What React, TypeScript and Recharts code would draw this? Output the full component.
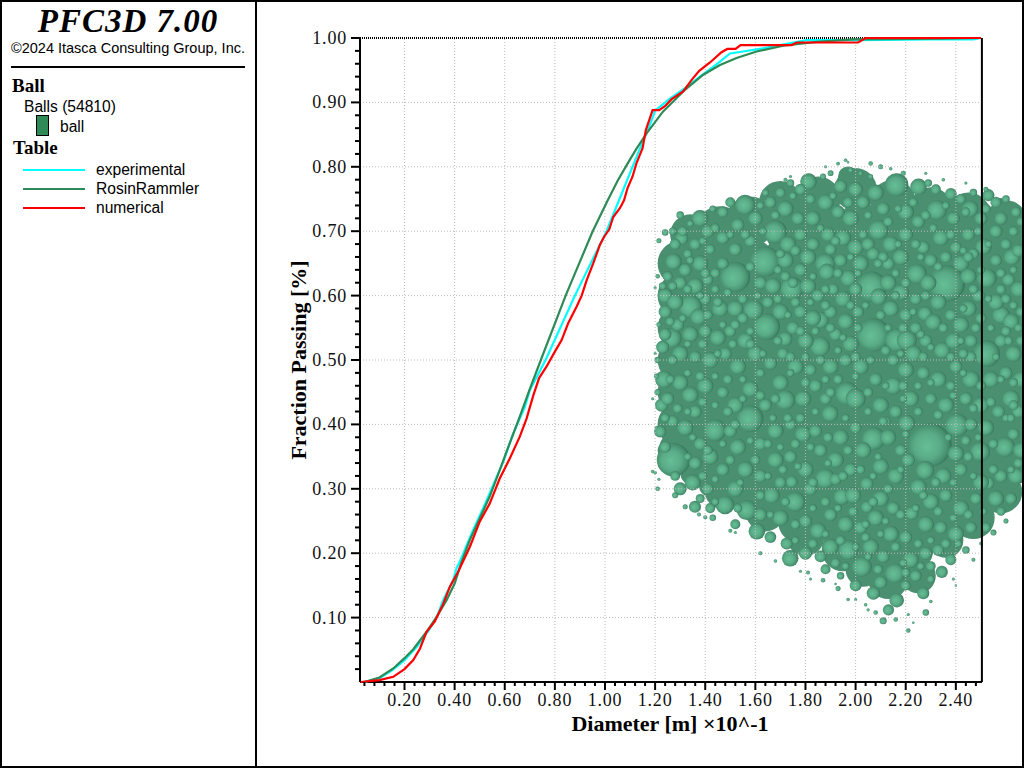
import React from 'react';
import {
  ComposedChart,
  Line,
  Scatter,
  XAxis,
  YAxis,
  ZAxis,
  ReferenceLine,
  Legend,
} from 'recharts';

type Pt = [number, number];
type Ball = [number, number, number];

// curves as [diameter, fraction]
const experimental: Pt[] = [
  [0.04, 0], [0.1, 0.006], [0.15, 0.018], [0.2, 0.034], [0.25, 0.055], [0.3, 0.082], [0.33, 0.102],
  [0.354, 0.127], [0.394, 0.158], [0.408, 0.177], [0.421, 0.187], [0.468, 0.231], [0.514, 0.27],
  [0.554, 0.306], [0.594, 0.342], [0.634, 0.386], [0.68, 0.427], [0.7, 0.453], [0.763, 0.5],
  [0.88, 0.6], [1.006, 0.7], [1.056, 0.748], [1.14, 0.829], [1.176, 0.862], [1.2, 0.887],
  [1.259, 0.906], [1.319, 0.922], [1.379, 0.94], [1.445, 0.959], [1.499, 0.976], [1.551, 0.979],
  [1.631, 0.984], [1.725, 0.991], [1.804, 0.9966], [2.004, 0.9966], [2.3, 0.998], [2.47, 0.998], [2.5, 1],
];
const rosinRammler: Pt[] = [
  [0.04, 0], [0.1, 0.007], [0.155, 0.021], [0.2, 0.037], [0.235, 0.051], [0.288, 0.078], [0.328, 0.101],
  [0.368, 0.127], [0.4, 0.153], [0.428, 0.187], [0.46, 0.22], [0.5, 0.254], [0.54, 0.288], [0.58, 0.329],
  [0.62, 0.371], [0.66, 0.412], [0.698, 0.453], [0.744, 0.5], [0.843, 0.6], [0.951, 0.7], [1.011, 0.748],
  [1.05, 0.778], [1.09, 0.805], [1.124, 0.827], [1.166, 0.852], [1.232, 0.886], [1.312, 0.917],
  [1.392, 0.943], [1.459, 0.958], [1.525, 0.969], [1.605, 0.979], [1.711, 0.988], [1.844, 0.994],
  [1.99, 0.998], [2.34, 0.999], [2.5, 1],
];
const numerical: Pt[] = [
  [0.025, 0], [0.1, 0.003], [0.155, 0.008], [0.2, 0.02], [0.235, 0.034], [0.262, 0.052], [0.288, 0.078],
  [0.321, 0.094], [0.355, 0.122], [0.381, 0.148], [0.414, 0.171], [0.421, 0.177], [0.461, 0.21], [0.5, 0.249],
  [0.54, 0.277], [0.58, 0.316], [0.62, 0.347], [0.66, 0.381], [0.687, 0.409], [0.714, 0.445], [0.737, 0.472],
  [0.767, 0.49], [0.8, 0.513], [0.827, 0.531], [0.853, 0.557], [0.887, 0.583], [0.907, 0.6], [0.927, 0.624],
  [0.953, 0.65], [0.98, 0.679], [0.996, 0.691], [1.017, 0.703], [1.033, 0.722], [1.06, 0.736], [1.076, 0.748],
  [1.09, 0.767], [1.11, 0.785], [1.125, 0.805], [1.15, 0.829], [1.163, 0.857], [1.19, 0.888], [1.216, 0.888],
  [1.239, 0.894], [1.266, 0.905], [1.312, 0.917], [1.346, 0.935], [1.376, 0.949], [1.419, 0.962], [1.465, 0.978],
  [1.488, 0.983], [1.521, 0.983], [1.541, 0.989], [1.745, 0.989], [1.765, 0.993], [2.01, 0.993], [2.04, 1], [2.5, 1],
];

// ball cloud as [x, y, diameter] in axis units, back to front
const coreBalls: Ball[] = [
  [1.7, 0.745, 0.17], [1.85, 0.75, 0.18], [2.0, 0.765, 0.17], [2.15, 0.745, 0.18], [2.3, 0.735, 0.17], [2.45, 0.725, 0.18], [2.6, 0.715, 0.17],
  [1.97, 0.785, 0.08], [1.55, 0.735, 0.08], [2.4, 0.74, 0.08], [2.58, 0.74, 0.06],
  [1.34, 0.695, 0.16], [1.46, 0.7, 0.2], [1.58, 0.715, 0.2], [1.74, 0.7, 0.2], [1.88, 0.7, 0.2], [2.02, 0.705, 0.2], [2.16, 0.7, 0.2], [2.3, 0.69, 0.2], [2.44, 0.68, 0.2], [2.58, 0.675, 0.2], [2.67, 0.69, 0.12],
  [1.3, 0.65, 0.18], [1.44, 0.655, 0.2], [1.58, 0.65, 0.2], [1.72, 0.65, 0.2], [1.86, 0.645, 0.2], [2.0, 0.65, 0.2], [2.14, 0.65, 0.2], [2.28, 0.645, 0.2], [2.42, 0.64, 0.2], [2.56, 0.63, 0.2], [2.66, 0.64, 0.2],
  [1.3, 0.6, 0.18], [1.44, 0.6, 0.2], [1.58, 0.6, 0.2], [1.72, 0.6, 0.2], [1.86, 0.6, 0.2], [2.0, 0.6, 0.2], [2.14, 0.6, 0.2], [2.28, 0.6, 0.2], [2.42, 0.59, 0.2], [2.56, 0.585, 0.2], [2.66, 0.59, 0.2],
  [1.3, 0.55, 0.18], [1.44, 0.55, 0.2], [1.58, 0.55, 0.2], [1.72, 0.55, 0.2], [1.86, 0.55, 0.2], [2.0, 0.55, 0.2], [2.14, 0.55, 0.2], [2.28, 0.55, 0.2], [2.42, 0.54, 0.2], [2.56, 0.54, 0.2], [2.66, 0.54, 0.2],
  [1.3, 0.5, 0.18], [1.44, 0.5, 0.2], [1.58, 0.5, 0.2], [1.72, 0.5, 0.2], [1.86, 0.5, 0.2], [2.0, 0.5, 0.2], [2.14, 0.5, 0.2], [2.28, 0.5, 0.2], [2.42, 0.5, 0.2], [2.56, 0.49, 0.2], [2.66, 0.49, 0.2],
  [1.3, 0.45, 0.18], [1.44, 0.45, 0.2], [1.58, 0.45, 0.2], [1.72, 0.45, 0.2], [1.86, 0.45, 0.2], [2.0, 0.45, 0.2], [2.14, 0.45, 0.2], [2.28, 0.45, 0.2], [2.42, 0.45, 0.2], [2.56, 0.44, 0.2], [2.66, 0.44, 0.2],
  [1.3, 0.4, 0.18], [1.44, 0.4, 0.2], [1.58, 0.4, 0.2], [1.72, 0.4, 0.2], [1.86, 0.4, 0.2], [2.0, 0.4, 0.2], [2.14, 0.4, 0.2], [2.28, 0.4, 0.2], [2.42, 0.4, 0.2], [2.56, 0.39, 0.2], [2.66, 0.39, 0.2],
  [1.3, 0.36, 0.17], [1.44, 0.35, 0.2], [1.58, 0.35, 0.2], [1.72, 0.35, 0.2], [1.86, 0.35, 0.2], [2.0, 0.35, 0.2], [2.14, 0.35, 0.2], [2.28, 0.35, 0.2], [2.42, 0.35, 0.2], [2.56, 0.345, 0.2], [2.66, 0.34, 0.16],
  [1.35, 0.325, 0.1], [1.42, 0.305, 0.09], [1.24, 0.36, 0.06],
  [1.48, 0.3, 0.17], [1.62, 0.3, 0.18], [1.76, 0.3, 0.18], [1.9, 0.3, 0.18], [2.04, 0.3, 0.18], [2.18, 0.3, 0.18], [2.32, 0.3, 0.18], [2.46, 0.3, 0.18], [2.58, 0.295, 0.17],
  [1.64, 0.265, 0.16], [1.78, 0.25, 0.18], [1.92, 0.25, 0.18], [2.06, 0.25, 0.18], [2.2, 0.25, 0.18], [2.34, 0.25, 0.18], [2.47, 0.255, 0.17],
  [1.8, 0.225, 0.15], [1.95, 0.205, 0.17], [2.08, 0.2, 0.18], [2.22, 0.205, 0.18], [2.36, 0.22, 0.14],
  [2.03, 0.175, 0.14], [2.13, 0.16, 0.16], [2.25, 0.165, 0.14],
];
const midBalls: Ball[] = [
  [2.364, 0.619, 0.146], [1.639, 0.653, 0.12], [2.064, 0.614, 0.12], [1.745, 0.611, 0.093], [2.071, 0.539, 0.133], [2.164, 0.531, 0.093],
  [1.645, 0.552, 0.106], [1.858, 0.521, 0.08], [1.559, 0.741, 0.08], [1.812, 0.777, 0.066], [2.164, 0.772, 0.093], [2.251, 0.769, 0.066],
  [2.324, 0.733, 0.08], [1.679, 0.699, 0.093], [2.091, 0.702, 0.08], [1.379, 0.72, 0.066], [1.273, 0.653, 0.066], [1.306, 0.689, 0.053],
  [1.519, 0.629, 0.12], [1.34, 0.583, 0.093], [1.266, 0.534, 0.08], [1.373, 0.567, 0.066], [1.459, 0.58, 0.066], [1.592, 0.578, 0.08],
  [1.878, 0.65, 0.08], [1.885, 0.637, 0.066], [2.244, 0.634, 0.08], [1.971, 0.627, 0.066], [2.091, 0.598, 0.066], [2.204, 0.531, 0.08],
  [2.523, 0.51, 0.106], [2.523, 0.627, 0.08], [2.53, 0.756, 0.048], [2.51, 0.676, 0.066], [2.623, 0.66, 0.066], [2.457, 0.735, 0.066],
  [2.45, 0.58, 0.066], [2.231, 0.51, 0.066], [2.345, 0.515, 0.066], [1.719, 0.533, 0.058], [2.277, 0.572, 0.058], [2.31, 0.559, 0.066],
  [1.86, 0.562, 0.066], [2.297, 0.368, 0.173], [2.071, 0.378, 0.093], [1.439, 0.391, 0.088], [1.273, 0.345, 0.133], [1.579, 0.409, 0.106],
  [2.404, 0.399, 0.093], [2.277, 0.329, 0.074], [2.596, 0.365, 0.08], [2.497, 0.358, 0.08], [2.157, 0.169, 0.08], [1.878, 0.316, 0.08],
  [1.759, 0.28, 0.08], [2.251, 0.303, 0.066], [1.665, 0.29, 0.066], [1.566, 0.267, 0.08], [1.479, 0.275, 0.074], [1.739, 0.192, 0.066],
  [1.359, 0.272, 0.048], [2.224, 0.262, 0.053], [2.045, 0.272, 0.048], [1.945, 0.288, 0.066], [1.719, 0.438, 0.08], [1.34, 0.446, 0.066],
  [2.53, 0.309, 0.048], [1.971, 0.205, 0.08], [2.025, 0.179, 0.08], [2.071, 0.138, 0.053], [2.27, 0.138, 0.048], [2.344, 0.171, 0.048],
  [2.131, 0.112, 0.045], [2.164, 0.127, 0.058], [1.725, 0.215, 0.048], [1.606, 0.234, 0.066], [1.965, 0.448, 0.093], [2.0, 0.44, 0.08],
  [1.898, 0.417, 0.066], [2.204, 0.402, 0.066], [1.745, 0.311, 0.048], [1.22, 0.389, 0.048], [1.226, 0.43, 0.053], [2.045, 0.308, 0.053],
  [1.24, 0.6, 0.06], [1.235, 0.47, 0.07], [1.24, 0.54, 0.05], [2.62, 0.44, 0.07], [2.58, 0.57, 0.07], [2.46, 0.47, 0.07], [2.15, 0.46, 0.07], [1.83, 0.72, 0.06],
];
const smallBalls: Ball[] = [
  [1.93, 0.805, 0.015], [1.96, 0.81, 0.014], [1.98, 0.795, 0.02], [1.9, 0.79, 0.023], [2.02, 0.79, 0.017], [2.06, 0.785, 0.02], [1.87, 0.785, 0.024], [1.78, 0.765, 0.045], [1.74, 0.775, 0.03], [1.94, 0.77, 0.052], [2.0, 0.765, 0.058], [2.08, 0.76, 0.065], [1.7, 0.76, 0.04], [1.66, 0.745, 0.047], [1.64, 0.76, 0.028], [2.29, 0.775, 0.03], [2.32, 0.765, 0.04], [2.38, 0.758, 0.047], [2.42, 0.75, 0.04], [2.47, 0.76, 0.03], [2.56, 0.745, 0.044],
  [1.5, 0.745, 0.04], [1.47, 0.73, 0.044], [1.43, 0.735, 0.026], [1.34, 0.712, 0.026], [1.31, 0.7, 0.04], [1.27, 0.7, 0.03], [1.24, 0.698, 0.026], [1.28, 0.68, 0.044], [1.41, 0.7, 0.052], [1.53, 0.71, 0.052], [1.6, 0.72, 0.058], [1.72, 0.735, 0.065], [1.77, 0.72, 0.052], [1.88, 0.745, 0.065], [1.93, 0.73, 0.052], [1.98, 0.72, 0.065], [2.03, 0.745, 0.052], [2.11, 0.735, 0.052], [2.2, 0.73, 0.065], [2.25, 0.715, 0.052], [2.39, 0.72, 0.052], [2.5, 0.72, 0.052], [2.58, 0.72, 0.052], [2.64, 0.73, 0.04],
  [1.36, 0.68, 0.047], [1.42, 0.672, 0.04], [1.47, 0.69, 0.052], [1.52, 0.672, 0.052], [1.58, 0.685, 0.047], [1.73, 0.68, 0.065], [1.78, 0.695, 0.052], [1.83, 0.68, 0.052], [1.89, 0.695, 0.058], [1.95, 0.69, 0.065], [2.0, 0.675, 0.065], [2.05, 0.68, 0.052], [2.14, 0.68, 0.065], [2.2, 0.695, 0.058], [2.27, 0.675, 0.052], [2.34, 0.69, 0.065], [2.4, 0.675, 0.047], [2.45, 0.695, 0.052], [2.56, 0.7, 0.052], [2.6, 0.68, 0.044], [2.65, 0.67, 0.052],
  [1.25, 0.63, 0.04], [1.32, 0.64, 0.052], [1.38, 0.65, 0.065], [1.44, 0.635, 0.04], [1.47, 0.65, 0.047], [1.72, 0.655, 0.065], [1.78, 0.64, 0.052], [1.81, 0.66, 0.065], [1.9, 0.672, 0.047], [1.94, 0.655, 0.052], [2.02, 0.65, 0.065], [2.07, 0.665, 0.052], [2.13, 0.65, 0.052], [2.18, 0.66, 0.065], [2.3, 0.655, 0.052], [2.36, 0.66, 0.047], [2.42, 0.65, 0.065], [2.47, 0.665, 0.044], [2.56, 0.655, 0.047], [2.61, 0.625, 0.052],
  [1.3, 0.62, 0.052], [1.36, 0.615, 0.065], [1.41, 0.625, 0.044], [1.62, 0.62, 0.052], [1.67, 0.615, 0.065], [1.72, 0.63, 0.04], [1.81, 0.615, 0.065], [1.85, 0.6, 0.052], [1.91, 0.61, 0.047], [1.95, 0.595, 0.065], [2.0, 0.61, 0.052], [2.13, 0.62, 0.065], [2.18, 0.605, 0.065], [2.24, 0.595, 0.047], [2.29, 0.62, 0.065], [2.45, 0.63, 0.065], [2.49, 0.6, 0.052], [2.56, 0.59, 0.065], [2.65, 0.61, 0.065], [2.6, 0.595, 0.04],
  [1.24, 0.575, 0.052], [1.28, 0.59, 0.065], [1.4, 0.595, 0.047], [1.52, 0.58, 0.065], [1.55, 0.565, 0.044], [1.65, 0.59, 0.047], [1.7, 0.575, 0.065], [1.78, 0.575, 0.052], [1.83, 0.565, 0.065], [1.9, 0.575, 0.052], [1.96, 0.56, 0.065], [2.01, 0.575, 0.047], [2.14, 0.58, 0.065], [2.2, 0.57, 0.052], [2.33, 0.59, 0.065], [2.38, 0.57, 0.047], [2.42, 0.555, 0.065], [2.5, 0.565, 0.044], [2.62, 0.56, 0.065], [2.66, 0.575, 0.04],
  [1.29, 0.555, 0.052], [1.34, 0.54, 0.065], [1.4, 0.545, 0.052], [1.45, 0.535, 0.065], [1.5, 0.545, 0.047], [1.56, 0.53, 0.065], [1.71, 0.51, 0.047], [1.75, 0.55, 0.052], [1.8, 0.53, 0.065], [1.92, 0.54, 0.052], [1.98, 0.525, 0.065], [2.24, 0.55, 0.047], [2.28, 0.53, 0.052], [2.39, 0.53, 0.065], [2.46, 0.53, 0.052], [2.58, 0.53, 0.052], [2.63, 0.51, 0.065], [2.66, 0.53, 0.04],
  [1.23, 0.52, 0.052], [1.3, 0.51, 0.065], [1.36, 0.505, 0.047], [1.42, 0.5, 0.065], [1.48, 0.51, 0.052], [1.53, 0.49, 0.065], [1.6, 0.51, 0.065], [1.66, 0.495, 0.052], [1.76, 0.49, 0.065], [1.82, 0.485, 0.047], [1.9, 0.49, 0.065], [1.96, 0.5, 0.052], [2.02, 0.49, 0.065], [2.08, 0.47, 0.052], [2.15, 0.5, 0.047], [2.2, 0.485, 0.065], [2.27, 0.48, 0.052], [2.33, 0.47, 0.065], [2.4, 0.49, 0.052], [2.46, 0.505, 0.044], [2.54, 0.47, 0.065], [2.6, 0.48, 0.052], [2.66, 0.47, 0.065],
  [1.25, 0.44, 0.052], [1.3, 0.465, 0.065], [1.36, 0.42, 0.052], [1.4, 0.46, 0.065], [1.47, 0.45, 0.047], [1.52, 0.43, 0.065], [1.58, 0.455, 0.065], [1.64, 0.43, 0.052], [1.7, 0.465, 0.065], [1.79, 0.44, 0.065], [1.84, 0.46, 0.052], [1.88, 0.44, 0.047], [2.1, 0.43, 0.065], [2.16, 0.42, 0.052], [2.22, 0.44, 0.065], [2.3, 0.44, 0.047], [2.36, 0.43, 0.065], [2.44, 0.44, 0.052], [2.5, 0.43, 0.065], [2.57, 0.42, 0.052], [2.65, 0.42, 0.052],
  [1.27, 0.405, 0.047], [1.32, 0.395, 0.065], [1.38, 0.37, 0.052], [1.5, 0.39, 0.052], [1.53, 0.365, 0.065], [1.62, 0.37, 0.052], [1.68, 0.39, 0.065], [1.74, 0.4, 0.047], [1.79, 0.385, 0.065], [1.84, 0.39, 0.052], [1.94, 0.38, 0.065], [2.0, 0.395, 0.047], [2.03, 0.36, 0.065], [2.13, 0.38, 0.065], [2.18, 0.36, 0.047], [2.4, 0.355, 0.065], [2.46, 0.4, 0.052], [2.52, 0.395, 0.065], [2.63, 0.385, 0.047], [2.66, 0.36, 0.065],
  [1.24, 0.365, 0.047], [1.36, 0.34, 0.052], [1.42, 0.35, 0.065], [1.47, 0.33, 0.052], [1.56, 0.33, 0.065], [1.62, 0.32, 0.052], [1.68, 0.345, 0.065], [1.74, 0.35, 0.052], [1.8, 0.33, 0.065], [1.86, 0.36, 0.052], [1.92, 0.345, 0.065], [1.98, 0.33, 0.052], [2.1, 0.335, 0.065], [2.16, 0.32, 0.065], [2.21, 0.345, 0.052], [2.35, 0.32, 0.065], [2.42, 0.33, 0.052], [2.5, 0.31, 0.065], [2.58, 0.32, 0.052], [2.64, 0.32, 0.065],
  [1.3, 0.3, 0.052], [1.35, 0.31, 0.065], [1.41, 0.3, 0.047], [1.52, 0.3, 0.065], [1.7, 0.31, 0.047], [1.82, 0.3, 0.052], [1.92, 0.315, 0.047], [1.99, 0.29, 0.065], [2.1, 0.285, 0.065], [2.15, 0.27, 0.052], [2.3, 0.28, 0.065], [2.36, 0.29, 0.052], [2.42, 0.27, 0.065], [2.48, 0.285, 0.047], [2.56, 0.285, 0.065], [2.62, 0.285, 0.047],
  [1.42, 0.27, 0.04], [1.52, 0.245, 0.04], [1.62, 0.26, 0.052], [1.7, 0.255, 0.065], [1.8, 0.25, 0.052], [1.85, 0.235, 0.065], [1.9, 0.26, 0.052], [1.96, 0.245, 0.065], [2.02, 0.24, 0.052], [2.08, 0.255, 0.065], [2.14, 0.23, 0.065], [2.2, 0.225, 0.052], [2.28, 0.245, 0.065], [2.34, 0.24, 0.052], [2.4, 0.23, 0.065], [2.46, 0.24, 0.047], [2.52, 0.24, 0.04],
  [1.66, 0.225, 0.047], [1.8, 0.2, 0.052], [1.86, 0.195, 0.047], [1.9, 0.21, 0.065], [2.06, 0.21, 0.065], [2.11, 0.195, 0.052], [2.22, 0.19, 0.065], [2.28, 0.2, 0.052], [2.33, 0.205, 0.047], [2.38, 0.19, 0.044], [2.44, 0.205, 0.03],
  [1.88, 0.175, 0.04], [1.94, 0.165, 0.03], [2.0, 0.15, 0.047], [2.1, 0.155, 0.052], [2.2, 0.15, 0.04], [2.24, 0.165, 0.047], [2.3, 0.16, 0.03],
];
const tinyBalls: Ball[] = [
  [1.62, 0.74, 0.03], [1.68, 0.725, 0.036], [1.75, 0.755, 0.03], [1.82, 0.75, 0.039], [1.91, 0.755, 0.03], [1.97, 0.745, 0.042], [2.05, 0.725, 0.033], [2.13, 0.715, 0.039], [2.17, 0.735, 0.03], [2.23, 0.745, 0.036], [2.28, 0.725, 0.039], [2.36, 0.74, 0.03], [2.44, 0.73, 0.036], [2.52, 0.735, 0.039], [2.6, 0.75, 0.03], [2.66, 0.715, 0.036],
  [1.33, 0.665, 0.036], [1.39, 0.685, 0.03], [1.44, 0.705, 0.036], [1.5, 0.695, 0.03], [1.56, 0.695, 0.039], [1.63, 0.7, 0.03], [1.7, 0.665, 0.036], [1.76, 0.67, 0.042], [1.86, 0.705, 0.03], [1.92, 0.685, 0.039], [1.98, 0.66, 0.03], [2.03, 0.695, 0.036], [2.11, 0.66, 0.042], [2.17, 0.68, 0.03], [2.24, 0.68, 0.039], [2.31, 0.705, 0.033], [2.38, 0.695, 0.039], [2.43, 0.67, 0.03], [2.49, 0.7, 0.036], [2.53, 0.68, 0.03], [2.63, 0.7, 0.039],
  [1.27, 0.615, 0.036], [1.34, 0.655, 0.03], [1.4, 0.635, 0.039], [1.44, 0.61, 0.033], [1.58, 0.645, 0.039], [1.69, 0.64, 0.033], [1.75, 0.62, 0.042], [1.83, 0.63, 0.03], [1.88, 0.61, 0.036], [1.93, 0.635, 0.039], [2.01, 0.635, 0.03], [2.09, 0.65, 0.036], [2.16, 0.635, 0.033], [2.2, 0.62, 0.039], [2.26, 0.66, 0.03], [2.33, 0.645, 0.036], [2.45, 0.66, 0.042], [2.5, 0.64, 0.033], [2.58, 0.635, 0.039], [2.63, 0.64, 0.03],
  [1.23, 0.615, 0.03], [1.33, 0.61, 0.036], [1.38, 0.6, 0.03], [1.45, 0.59, 0.039], [1.49, 0.605, 0.033], [1.55, 0.595, 0.039], [1.61, 0.6, 0.03], [1.69, 0.595, 0.036], [1.76, 0.59, 0.039], [1.82, 0.59, 0.03], [1.88, 0.585, 0.039], [1.98, 0.585, 0.036], [2.04, 0.585, 0.03], [2.1, 0.57, 0.039], [2.16, 0.6, 0.036], [2.23, 0.575, 0.03], [2.28, 0.6, 0.039], [2.43, 0.58, 0.033], [2.47, 0.61, 0.039], [2.53, 0.595, 0.03], [2.58, 0.61, 0.039], [2.63, 0.585, 0.033],
  [1.26, 0.56, 0.036], [1.31, 0.565, 0.03], [1.41, 0.57, 0.039], [1.47, 0.555, 0.03], [1.52, 0.555, 0.039], [1.58, 0.545, 0.033], [1.73, 0.57, 0.03], [1.78, 0.545, 0.039], [1.84, 0.545, 0.033], [1.9, 0.55, 0.039], [1.95, 0.535, 0.03], [2.01, 0.55, 0.036], [2.13, 0.55, 0.03], [2.19, 0.55, 0.039], [2.26, 0.54, 0.033], [2.35, 0.55, 0.039], [2.42, 0.53, 0.03], [2.48, 0.55, 0.039], [2.54, 0.55, 0.03], [2.6, 0.545, 0.039], [2.65, 0.55, 0.033],
  [1.21, 0.5, 0.025], [1.27, 0.5, 0.039], [1.33, 0.525, 0.03], [1.39, 0.525, 0.039], [1.45, 0.51, 0.03], [1.51, 0.525, 0.036], [1.58, 0.525, 0.039], [1.63, 0.51, 0.03], [1.69, 0.53, 0.036], [1.74, 0.505, 0.039], [1.8, 0.505, 0.033], [1.86, 0.5, 0.039], [1.93, 0.515, 0.03], [2.0, 0.505, 0.039], [2.06, 0.5, 0.033], [2.12, 0.515, 0.039], [2.18, 0.51, 0.03], [2.27, 0.505, 0.039], [2.3, 0.52, 0.03], [2.38, 0.505, 0.036], [2.43, 0.51, 0.039], [2.56, 0.505, 0.03], [2.61, 0.53, 0.036],
  [1.26, 0.47, 0.036], [1.33, 0.48, 0.03], [1.38, 0.475, 0.039], [1.44, 0.475, 0.03], [1.49, 0.47, 0.039], [1.55, 0.47, 0.03], [1.62, 0.48, 0.036], [1.68, 0.44, 0.039], [1.74, 0.48, 0.03], [1.8, 0.465, 0.039], [1.88, 0.47, 0.033], [1.93, 0.47, 0.039], [2.0, 0.475, 0.03], [2.05, 0.45, 0.039], [2.12, 0.46, 0.03], [2.19, 0.46, 0.039], [2.25, 0.46, 0.033], [2.3, 0.465, 0.03], [2.38, 0.46, 0.039], [2.43, 0.48, 0.03], [2.5, 0.46, 0.039], [2.58, 0.47, 0.03], [2.63, 0.465, 0.036],
  [1.21, 0.45, 0.025], [1.29, 0.425, 0.039], [1.33, 0.42, 0.03], [1.39, 0.435, 0.036], [1.44, 0.43, 0.03], [1.49, 0.42, 0.039], [1.55, 0.44, 0.03], [1.62, 0.445, 0.039], [1.67, 0.41, 0.03], [1.73, 0.41, 0.036], [1.78, 0.41, 0.039], [1.84, 0.42, 0.03], [1.9, 0.45, 0.039], [2.05, 0.42, 0.033], [2.12, 0.405, 0.039], [2.19, 0.44, 0.03], [2.25, 0.42, 0.036], [2.33, 0.415, 0.039], [2.39, 0.445, 0.03], [2.47, 0.425, 0.036], [2.54, 0.435, 0.039], [2.6, 0.41, 0.03], [2.63, 0.43, 0.039],
  [1.24, 0.41, 0.036], [1.35, 0.38, 0.03], [1.41, 0.36, 0.039], [1.47, 0.37, 0.03], [1.52, 0.4, 0.039], [1.58, 0.375, 0.03], [1.65, 0.37, 0.036], [1.7, 0.365, 0.03], [1.76, 0.37, 0.039], [1.82, 0.365, 0.033], [1.89, 0.38, 0.039], [1.96, 0.41, 0.03], [1.97, 0.36, 0.039], [2.09, 0.35, 0.03], [2.11, 0.405, 0.036], [2.2, 0.385, 0.03], [2.37, 0.38, 0.03], [2.44, 0.375, 0.039], [2.49, 0.38, 0.03], [2.55, 0.37, 0.039], [2.62, 0.41, 0.033], [2.65, 0.34, 0.039],
  [1.28, 0.32, 0.039], [1.33, 0.35, 0.03], [1.39, 0.32, 0.036], [1.44, 0.315, 0.03], [1.5, 0.345, 0.039], [1.54, 0.31, 0.03], [1.6, 0.345, 0.039], [1.65, 0.32, 0.03], [1.71, 0.33, 0.036], [1.77, 0.335, 0.03], [1.83, 0.31, 0.039], [1.89, 0.34, 0.03], [1.95, 0.32, 0.039], [2.02, 0.33, 0.036], [2.07, 0.32, 0.03], [2.13, 0.3, 0.039], [2.18, 0.33, 0.03], [2.32, 0.31, 0.039], [2.39, 0.31, 0.03], [2.45, 0.35, 0.039], [2.47, 0.32, 0.03], [2.55, 0.33, 0.039], [2.62, 0.33, 0.03],
  [1.38, 0.285, 0.036], [1.44, 0.28, 0.03], [1.53, 0.27, 0.036], [1.62, 0.29, 0.039], [1.66, 0.26, 0.03], [1.72, 0.28, 0.036], [1.76, 0.245, 0.039], [1.83, 0.27, 0.03], [1.88, 0.28, 0.039], [1.93, 0.27, 0.03], [1.99, 0.265, 0.039], [2.04, 0.245, 0.033], [2.07, 0.28, 0.039], [2.12, 0.25, 0.03], [2.18, 0.26, 0.039], [2.24, 0.27, 0.03], [2.27, 0.29, 0.036], [2.33, 0.265, 0.039], [2.39, 0.255, 0.03], [2.45, 0.26, 0.039], [2.51, 0.265, 0.03], [2.58, 0.265, 0.036],
  [1.76, 0.22, 0.03], [1.83, 0.215, 0.039], [1.88, 0.23, 0.03], [1.94, 0.22, 0.039], [2.0, 0.21, 0.03], [2.04, 0.225, 0.036], [2.1, 0.23, 0.03], [2.16, 0.21, 0.039], [2.19, 0.185, 0.03], [2.25, 0.215, 0.036], [2.3, 0.22, 0.03], [2.36, 0.215, 0.039], [2.41, 0.215, 0.03], [2.05, 0.195, 0.03], [2.09, 0.175, 0.039], [2.2, 0.17, 0.036], [2.26, 0.18, 0.03], [2.3, 0.18, 0.039], [1.92, 0.185, 0.039], [1.96, 0.18, 0.03],
];
const looseBalls: Ball[] = [
  [1.3, 0.725, 0.03], [1.215, 0.685, 0.02], [1.21, 0.63, 0.018], [1.2, 0.612, 0.012], [1.215, 0.555, 0.02], [1.2, 0.51, 0.012], [1.205, 0.475, 0.02], [1.19, 0.44, 0.012], [1.205, 0.395, 0.014],
  [1.19, 0.327, 0.014], [1.2, 0.325, 0.014], [1.215, 0.315, 0.012], [1.21, 0.3, 0.018], [1.28, 0.29, 0.024], [1.32, 0.272, 0.02], [1.375, 0.26, 0.016], [1.4, 0.256, 0.016], [1.43, 0.255, 0.026], [1.5, 0.235, 0.016], [1.52, 0.232, 0.012],
  [1.62, 0.2, 0.016], [1.68, 0.188, 0.014], [1.78, 0.172, 0.012], [1.81, 0.17, 0.016], [1.82, 0.16, 0.012], [1.87, 0.158, 0.018], [1.92, 0.152, 0.01], [1.93, 0.145, 0.02], [1.97, 0.128, 0.014], [2.0, 0.128, 0.012], [2.04, 0.12, 0.014], [2.05, 0.112, 0.012],
  [2.08, 0.108, 0.018], [2.11, 0.095, 0.028], [2.16, 0.097, 0.018], [2.21, 0.105, 0.012], [2.23, 0.092, 0.01], [2.21, 0.08, 0.018], [2.28, 0.108, 0.026], [2.3, 0.125, 0.014], [2.39, 0.16, 0.012], [2.4, 0.15, 0.01], [2.47, 0.19, 0.016], [2.5, 0.215, 0.014],
  [2.6, 0.25, 0.02], [2.55, 0.232, 0.024], [2.67, 0.298, 0.02], [2.28, 0.79, 0.012], [2.35, 0.78, 0.014], [2.44, 0.775, 0.012], [2.52, 0.765, 0.02], [1.88, 0.8, 0.012], [1.74, 0.785, 0.012], [1.72, 0.78, 0.016], [1.97, 0.807, 0.01], [2.06, 0.805, 0.018], [2.1, 0.8, 0.02], [2.14, 0.797, 0.014], [2.19, 0.79, 0.02],
];

const majorX = [0.2, 0.4, 0.6, 0.8, 1.0, 1.2, 1.4, 1.6, 1.8, 2.0, 2.2, 2.4];
const majorY = [0.1, 0.2, 0.3, 0.4, 0.5, 0.6, 0.7, 0.8, 0.9];
const allXTicks = Array.from({ length: 62 }, (_, i) => (i + 1) * 0.04);
const allYTicks = Array.from({ length: 50 }, (_, i) => (i + 1) * 0.02);

const X_MIN = 0.0224;
const X_END = 2.504; // right edge of the frame, the cloud runs on past it
const X_MAX = 2.672;
const LINES_ON_TOP = 900; // grid and frame sit over the ball cloud

const toLine = (pts: Pt[]) => pts.map(([x, y]) => ({ x, y }));
const toBalls = (balls: Ball[]) => balls.map(([x, y, d]) => ({ x, y, z: d * d }));

const serif = '"Liberation Serif", serif';
const sans = '"Liberation Sans", sans-serif';

const XTick = (props: any) => {
  const { x, y, payload } = props;
  const major = Math.round(payload.value * 100) % 20 === 0;
  return (
    <g>
      <line x1={x} x2={x} y1={y} y2={y + (major ? 8 : 4)} stroke="#000" strokeWidth={2} />
      {major && (
        <text x={x} y={y + 24} textAnchor="middle" fontFamily={serif} fontSize={18} letterSpacing={0.8} fill="#111">
          {payload.value.toFixed(2)}
        </text>
      )}
    </g>
  );
};

const YTick = (props: any) => {
  const { x, y, payload } = props;
  const major = Math.round(payload.value * 100) % 10 === 0;
  return (
    <g>
      <line x1={x - (major ? 9 : 5)} x2={x} y1={y} y2={y} stroke="#000" strokeWidth={2} />
      {major && (
        <text x={x - 13} y={y + 6} textAnchor="end" fontFamily={serif} fontSize={18} letterSpacing={0.8} fill="#111">
          {payload.value.toFixed(2)}
        </text>
      )}
    </g>
  );
};

const Panel = (props: any) => {
  const rows = (props.payload || []).filter((r: any) => r.type !== 'none' && r.value);
  return (
    <div style={{ position: 'relative', width: 256, height: 768, color: '#000', textAlign: 'left' }}>
      <div style={{ position: 'absolute', left: 0, width: 256, top: 3, textAlign: 'center', font: `italic bold 33px ${serif}`, letterSpacing: 1 }}>
        PFC3D 7.00
      </div>
      <div style={{ position: 'absolute', left: 0, width: 256, top: 40, textAlign: 'center', font: `14.5px ${sans}` }}>
        ©2024 Itasca Consulting Group, Inc.
      </div>
      <div style={{ position: 'absolute', left: 11, width: 234, top: 66, height: 2, background: '#000' }} />
      <div style={{ position: 'absolute', left: 12, top: 75, font: `bold 19px ${serif}` }}>Ball</div>
      <div style={{ position: 'absolute', left: 24, top: 98, font: `15.6px ${sans}` }}>Balls (54810)</div>
      <div style={{ position: 'absolute', left: 36, top: 115, width: 11, height: 19, background: '#2e8b57', border: '1px solid #000' }} />
      <div style={{ position: 'absolute', left: 60, top: 118, font: `15.6px ${sans}` }}>ball</div>
      <div style={{ position: 'absolute', left: 13, top: 137, font: `bold 19px ${serif}` }}>Table</div>
      {rows.map((r: any, i: number) => (
        <React.Fragment key={r.value}>
          <div style={{ position: 'absolute', left: 23, width: 62, top: 169 + i * 19, height: 2, background: r.color }} />
          <div style={{ position: 'absolute', left: 96, top: 161 + i * 19, font: `15.6px ${sans}` }}>{r.value}</div>
        </React.Fragment>
      ))}
    </div>
  );
};

export default function App() {
  return (
    <div style={{ position: 'absolute', left: 0, top: 0, width: 1024, height: 768, background: '#fff', overflow: 'hidden' }}>
      <ComposedChart width={1024} height={768} margin={{ top: 38, right: 0, bottom: 36, left: 300 }}>
        <defs>
          <radialGradient id="ballShade" cx="45%" cy="50%" r="55%" fx="42%" fy="54%">
            <stop offset="0%" stopColor="#66bf96" />
            <stop offset="55%" stopColor="#59ab86" />
            <stop offset="85%" stopColor="#478f6e" />
            <stop offset="100%" stopColor="#33705a" />
          </radialGradient>
        </defs>
        <XAxis
          type="number"
          dataKey="x"
          domain={[X_MIN, X_MAX]}
          ticks={allXTicks}
          interval={0}
          tick={<XTick />}
          tickLine={false}
          axisLine={false}
          tickSize={0}
          tickMargin={0}
          height={50}
          label={{
            value: 'Diameter [m] ×10^-1',
            position: 'center',
            dx: -22,
            dy: 16,
            style: { fontFamily: serif, fontWeight: 'bold', fontSize: 22, fill: '#000' },
          }}
        />
        <YAxis
          type="number"
          dataKey="y"
          domain={[0, 1]}
          ticks={allYTicks}
          interval={0}
          tick={<YTick />}
          tickLine={false}
          axisLine={false}
          tickSize={0}
          tickMargin={0}
          width={60}
          label={{
            value: 'Fraction Passing [%]',
            angle: -90,
            position: 'center',
            dx: -32,
            style: { fontFamily: serif, fontWeight: 'bold', fontSize: 22, fill: '#000' },
          }}
        />
        <ZAxis type="number" dataKey="z" domain={[0, 1]} range={[0, 49325]} />
        <Scatter data={toBalls(coreBalls)} fill="#4a9070" legendType="none" isAnimationActive={false} />
        <Scatter data={toBalls(midBalls)} fill="url(#ballShade)" legendType="none" isAnimationActive={false} />
        <Scatter data={toBalls(smallBalls)} fill="url(#ballShade)" legendType="none" isAnimationActive={false} />
        <Scatter data={toBalls(tinyBalls)} fill="url(#ballShade)" legendType="none" isAnimationActive={false} />
        <Scatter data={toBalls(looseBalls)} fill="url(#ballShade)" legendType="none" isAnimationActive={false} />
        {majorX.map((v) => (
          <ReferenceLine key={v} x={v} stroke="#bbb" strokeWidth={1} strokeDasharray="1 2" zIndex={LINES_ON_TOP} />
        ))}
        {majorY.map((v) => (
          <ReferenceLine
            key={v}
            segment={[{ x: X_MIN, y: v }, { x: X_END, y: v }]}
            stroke="#bbb"
            strokeWidth={1}
            strokeDasharray="1 2"
            zIndex={LINES_ON_TOP}
          />
        ))}
        <ReferenceLine x={X_MIN} stroke="#000" strokeWidth={2} zIndex={LINES_ON_TOP} />
        <ReferenceLine x={X_END} stroke="#000" strokeWidth={2} zIndex={LINES_ON_TOP} />
        <ReferenceLine segment={[{ x: X_MIN, y: 0 }, { x: X_END, y: 0 }]} stroke="#000" strokeWidth={2} zIndex={LINES_ON_TOP} />
        <ReferenceLine segment={[{ x: X_MIN, y: 1 }, { x: X_END, y: 1 }]} stroke="#000" strokeWidth={2} strokeDasharray="1 1" zIndex={LINES_ON_TOP} />
        <Line data={toLine(experimental)} dataKey="y" name="experimental" stroke="#00ffff" strokeWidth={2.2} dot={false} isAnimationActive={false} zIndex={LINES_ON_TOP + 1} />
        <Line data={toLine(rosinRammler)} dataKey="y" name="RosinRammler" stroke="#2e8b57" strokeWidth={2.2} dot={false} isAnimationActive={false} zIndex={LINES_ON_TOP + 1} />
        <Line data={toLine(numerical)} dataKey="y" name="numerical" stroke="#ff0000" strokeWidth={2.2} dot={false} isAnimationActive={false} zIndex={LINES_ON_TOP + 1} />
        <Legend
          layout="horizontal"
          verticalAlign="middle"
          itemSorter={null}
          content={<Panel />}
          wrapperStyle={{ position: 'absolute', left: 0, top: 0, width: 256, height: 768, margin: 0 }}
        />
      </ComposedChart>
      {/* window frame and the divider next to the legend panel */}
      <div style={{ position: 'absolute', inset: 0, border: '2px solid #000', boxSizing: 'border-box', pointerEvents: 'none' }} />
      <div style={{ position: 'absolute', left: 255, top: 0, width: 2, height: 768, background: '#000', pointerEvents: 'none' }} />
    </div>
  );
}
